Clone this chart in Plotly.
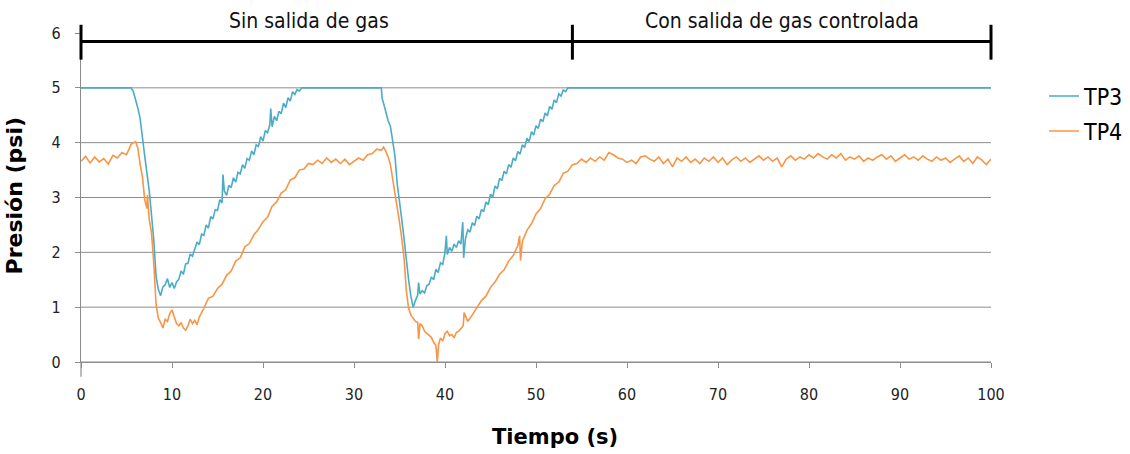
import plotly.graph_objects as go

# ---------------- data ----------------
t_tp3 = [0, 5.5, 5.75, 6.0, 6.25, 6.5, 6.75, 7.0, 7.25, 7.5, 7.75, 8.0, 8.25, 8.5, 8.75, 9.0, 9.25, 9.5,
         9.75, 10.0, 10.25, 10.5, 10.75, 11.0, 11.25, 11.5, 11.75, 12.0, 12.25, 12.5, 12.75, 13.0, 13.25,
         13.5, 13.75, 14.0, 14.25, 14.5, 14.75, 15.0, 15.25, 15.5, 15.6, 15.75, 16.0, 16.25, 16.5, 16.75,
         17.0, 17.25, 17.5, 17.75, 18.0, 18.25, 18.5, 18.75, 19.0, 19.25, 19.5, 19.75, 20.0, 20.25, 20.5,
         20.75, 20.85, 21.0, 21.25, 21.5, 21.75, 22.0, 22.25, 22.5, 22.75, 23.0, 23.25, 23.5, 23.75, 24.0,
         24.25, 33.0, 33.1, 33.25, 33.5, 33.75, 34.0, 34.25, 34.5, 34.75, 35.0, 35.25, 35.5, 35.75, 36.0,
         36.25, 36.5, 36.75, 37.0, 37.1, 37.25, 37.5, 37.75, 38.0, 38.25, 38.5, 38.75, 39.0, 39.25, 39.5,
         39.75, 40.0, 40.15, 40.25, 40.5, 40.75, 41.0, 41.25, 41.5, 41.75, 41.95, 42.0, 42.05, 42.25, 42.5,
         42.75, 43.0, 43.25, 43.5, 43.75, 44.0, 44.25, 44.5, 44.75, 45.0, 45.25, 45.5, 45.75, 46.0, 46.25,
         46.5, 46.75, 47.0, 47.25, 47.5, 47.75, 48.0, 48.25, 48.5, 48.75, 49.0, 49.25, 49.5, 49.75, 50.0,
         50.25, 50.5, 50.75, 51.0, 51.25, 51.5, 51.75, 52.0, 52.25, 52.5, 52.75, 53.0, 53.25, 53.5, 100]
tp3 = [5.0, 5.0, 4.93, 4.8, 4.63, 4.44, 4.06, 3.76, 3.44, 3.12, 2.68, 2.22, 1.56, 1.32, 1.21, 1.37, 1.41,
       1.52, 1.36, 1.45, 1.34, 1.46, 1.51, 1.66, 1.6, 1.79, 1.8, 1.97, 1.93, 2.05, 2.19, 2.14, 2.33, 2.31,
       2.5, 2.44, 2.65, 2.61, 2.78, 2.76, 2.96, 2.9, 3.42, 3.12, 3.04, 3.22, 3.18, 3.36, 3.28, 3.46, 3.43,
       3.6, 3.53, 3.71, 3.68, 3.85, 3.78, 3.96, 3.93, 4.11, 4.03, 4.22, 4.18, 4.33, 4.62, 4.29, 4.48, 4.4,
       4.57, 4.53, 4.72, 4.64, 4.82, 4.76, 4.93, 4.88, 4.97, 4.94, 5.0, 5.0, 4.8, 4.72, 4.56, 4.4, 4.3,
       4.05, 3.76, 3.25, 2.95, 2.6, 2.25, 1.8, 1.5, 1.2, 1.0, 1.12, 1.22, 1.45, 1.24, 1.3, 1.26, 1.39, 1.42,
       1.55, 1.5, 1.69, 1.63, 1.81, 1.78, 2.0, 2.3, 1.96, 2.09, 2.02, 2.15, 2.09, 2.21, 2.15, 2.55, 2.26,
       1.9, 2.25, 2.41, 2.37, 2.54, 2.49, 2.66, 2.61, 2.78, 2.74, 2.92, 2.87, 3.06, 3.01, 3.21, 3.16, 3.35,
       3.31, 3.48, 3.43, 3.6, 3.55, 3.72, 3.67, 3.84, 3.79, 3.96, 3.91, 4.08, 4.02, 4.2, 4.14, 4.31, 4.26,
       4.43, 4.38, 4.54, 4.49, 4.66, 4.61, 4.78, 4.73, 4.89, 4.85, 4.96, 4.93, 5.0, 5.0]

t_tp4 = [0.0, 0.5, 1.0, 1.5, 2.0, 2.5, 3.0, 3.5, 4.0, 4.5, 5.0, 5.5, 6.0, 6.25, 6.5, 6.75, 7.0, 7.25, 7.3,
         7.5, 7.75, 8.0, 8.25, 8.5, 8.75, 9.0, 9.25, 9.5, 9.75, 10.0, 10.25, 10.5, 10.75, 11.0, 11.25, 11.5,
         11.75, 12.0, 12.25, 12.5, 12.75, 13.0, 13.5, 14.0, 14.5, 15.0, 15.5, 16.0, 16.5, 17.0, 17.5, 18.0,
         18.5, 19.0, 19.5, 20.0, 20.5, 21.0, 21.5, 22.0, 22.5, 23.0, 23.5, 24.0, 24.5, 25.0, 25.5, 26.0,
         26.5, 27.0, 27.5, 28.0, 28.5, 29.0, 29.5, 30.0, 30.5, 31.0, 31.5, 32.0, 32.5, 33.0, 33.25, 33.5,
         33.75, 34.0, 34.25, 34.5, 34.75, 35.0, 35.25, 35.5, 35.75, 36.0, 36.25, 36.5, 36.75, 37.0, 37.1,
         37.25, 37.5, 37.75, 38.0, 38.25, 38.5, 38.75, 39.0, 39.15, 39.3, 39.5, 39.75, 40.0, 40.25, 40.5,
         40.75, 41.0, 41.25, 41.5, 41.75, 42.0, 42.1, 42.5, 43.0, 43.5, 44.0, 44.5, 45.0, 45.5, 46.0, 46.5,
         47.0, 47.5, 48.0, 48.2, 48.3, 48.5, 49.0, 49.5, 50.0, 50.5, 51.0, 51.5, 52.0, 52.5, 53.0, 53.5,
         54.0, 54.5, 55.0, 55.5, 56.0, 56.5, 57.0, 57.5, 58.0, 58.5, 59.0, 59.5, 60.0, 60.5, 61.0, 61.5,
         62.0, 62.5, 63.0, 63.5, 64.0, 64.5, 65.0, 65.5, 66.0, 66.5, 67.0, 67.5, 68.0, 68.5, 69.0, 69.5,
         70.0, 70.5, 71.0, 71.5, 72.0, 72.5, 73.0, 73.5, 74.0, 74.5, 75.0, 75.5, 76.0, 76.5, 77.0, 77.5,
         78.0, 78.5, 79.0, 79.5, 80.0, 80.5, 81.0, 81.5, 82.0, 82.5, 83.0, 83.5, 84.0, 84.5, 85.0, 85.5,
         86.0, 86.5, 87.0, 87.5, 88.0, 88.5, 89.0, 89.5, 90.0, 90.5, 91.0, 91.5, 92.0, 92.5, 93.0, 93.5,
         94.0, 94.5, 95.0, 95.5, 96.0, 96.5, 97.0, 97.5, 98.0, 98.5, 99.0, 99.5, 100.0]
tp4 = [3.66, 3.75, 3.63, 3.74, 3.65, 3.71, 3.61, 3.77, 3.72, 3.82, 3.78, 3.97, 4.02, 3.9, 3.6, 3.38, 2.96,
       2.8, 3.05, 2.6, 2.35, 1.8, 1.05, 0.8, 0.72, 0.62, 0.78, 0.74, 0.88, 0.95, 0.82, 0.7, 0.66, 0.72, 0.62,
       0.58, 0.66, 0.78, 0.7, 0.76, 0.68, 0.82, 0.98, 1.16, 1.2, 1.34, 1.42, 1.58, 1.66, 1.84, 1.9, 2.1,
       2.16, 2.32, 2.42, 2.56, 2.64, 2.84, 2.92, 3.08, 3.14, 3.32, 3.36, 3.5, 3.52, 3.62, 3.6, 3.68, 3.62,
       3.72, 3.64, 3.7, 3.62, 3.7, 3.6, 3.66, 3.72, 3.68, 3.78, 3.8, 3.88, 3.86, 3.92, 3.84, 3.74, 3.6,
       3.35, 3.1, 2.85, 2.55, 2.25, 1.9, 1.3, 0.98, 0.86, 0.8, 0.74, 0.72, 0.42, 0.7, 0.66, 0.56, 0.52,
       0.48, 0.45, 0.36, 0.3, 0.0, 0.32, 0.44, 0.38, 0.52, 0.56, 0.48, 0.5, 0.44, 0.54, 0.56, 0.62, 0.66,
       0.9, 0.74, 0.86, 0.98, 1.12, 1.2, 1.36, 1.46, 1.6, 1.68, 1.84, 1.94, 2.12, 2.3, 1.85, 2.2, 2.4,
       2.52, 2.7, 2.8, 2.98, 3.06, 3.22, 3.28, 3.44, 3.48, 3.6, 3.62, 3.7, 3.64, 3.72, 3.66, 3.74, 3.68,
       3.82, 3.78, 3.72, 3.7, 3.64, 3.68, 3.62, 3.74, 3.76, 3.7, 3.66, 3.74, 3.62, 3.7, 3.56, 3.72, 3.66,
       3.74, 3.64, 3.7, 3.62, 3.72, 3.66, 3.74, 3.64, 3.72, 3.6, 3.68, 3.74, 3.66, 3.72, 3.64, 3.7, 3.76,
       3.68, 3.74, 3.66, 3.72, 3.56, 3.7, 3.76, 3.68, 3.74, 3.7, 3.78, 3.72, 3.8, 3.74, 3.7, 3.78, 3.72,
       3.8, 3.68, 3.74, 3.7, 3.76, 3.66, 3.72, 3.68, 3.74, 3.78, 3.7, 3.76, 3.66, 3.72, 3.78, 3.7, 3.74,
       3.68, 3.76, 3.7, 3.66, 3.74, 3.68, 3.72, 3.64, 3.7, 3.76, 3.66, 3.72, 3.62, 3.74, 3.68, 3.6, 3.7]

x_ticks = [0, 10, 20, 30, 40, 50, 60, 70, 80, 90, 100]
y_ticks = [0, 1, 2, 3, 4, 5, 6]
phase_bounds = [0, 54, 100]
phase_labels = ["Sin salida de gas", "Con salida de gas controlada"]
phase_label_x = [25.1, 77.0]

# ---------------- styling ----------------
C_TP3 = "#4BACC6"
C_TP4 = "#F79646"
GRID = "#8C8C8C"
NARROW = "Liberation Sans Narrow, Arial Narrow, DejaVu Sans Condensed, sans-serif"
TICKF = "DejaVu Sans Condensed, DejaVu Sans, sans-serif"
TITLEF = "DejaVu Sans, Verdana, sans-serif"

X0, X1 = x_ticks[0], x_ticks[-1]
Y0, Y1 = y_ticks[0], y_ticks[-1]

fig = go.Figure()
fig.add_trace(go.Scatter(x=t_tp3, y=tp3, mode="lines", name="TP3",
                         line=dict(color=C_TP3, width=1.6), legend="legend", cliponaxis=True))
fig.add_trace(go.Scatter(x=t_tp4, y=tp4, mode="lines", name="TP4",
                         line=dict(color=C_TP4, width=1.6), legend="legend2", cliponaxis=True))

shapes = []
# horizontal gridlines (none at the top edge)
for v in y_ticks[:-1]:
    shapes.append(dict(type="line", xref="paper", yref="y", x0=0, x1=1, y0=v, y1=v,
                       line=dict(color=GRID, width=1), layer="below"))
# y axis line extension below zero
shapes.append(dict(type="line", xref="paper", yref="paper", x0=0, x1=0, y0=0, y1=-0.045,
                   line=dict(color=GRID, width=1.2)))


def px(v):
    return (v - X0) / (X1 - X0)


# phase brackets
shapes.append(dict(type="line", xref="paper", yref="paper", x0=px(phase_bounds[0]), x1=px(phase_bounds[-1]),
                   y0=0.9745, y1=0.9745, line=dict(color="black", width=3)))
for b in phase_bounds:
    shapes.append(dict(type="line", xref="paper", yref="paper", x0=px(b), x1=px(b),
                       y0=0.919, y1=1.025, line=dict(color="black", width=3)))

annotations = []
for lab, lx in zip(phase_labels, phase_label_x):
    annotations.append(dict(text=lab, x=lx, xref="x", y=1.037, yref="paper", showarrow=False,
                            xanchor="center", yanchor="middle",
                            font=dict(family=NARROW, size=21, color="#111111")))
annotations.append(dict(text="<b>Presión (psi)</b>", x=-0.073, xref="paper", y=0.505, yref="paper",
                        showarrow=False, textangle=-90, xanchor="center", yanchor="middle",
                        font=dict(family=TITLEF, size=22, color="black")))
annotations.append(dict(text="<b>Tiempo (s)</b>", x=0.521, xref="paper", y=-0.227, yref="paper",
                        showarrow=False, xanchor="center", yanchor="middle",
                        font=dict(family=TITLEF, size=21, color="black")))

legend_common = dict(font=dict(family=NARROW, size=23, color="black"), bgcolor="rgba(0,0,0,0)",
                     xref="container", yref="container",
                     xanchor="left", yanchor="middle", borderwidth=0)

fig.update_layout(
    width=1130, height=454,
    margin=dict(l=81, r=139, t=33, b=92, pad=0, autoexpand=False),
    paper_bgcolor="white", plot_bgcolor="white",
    xaxis=dict(range=[X0, X1], tickvals=x_ticks, showgrid=False, zeroline=False, automargin=False,
               showline=True, linecolor=GRID, linewidth=1.2, ticks="outside", ticklen=5,
               tickcolor=GRID, tickfont=dict(family=TICKF, size=16, color="#222222"),
               ticklabelstandoff=13),
    yaxis=dict(range=[Y0, Y1], tickvals=y_ticks, showgrid=False, zeroline=False, automargin=False,
               showline=True, linecolor=GRID, linewidth=1.2, ticks="outside", ticklen=5,
               tickcolor=GRID, tickfont=dict(family=TICKF, size=16, color="#222222"),
               ticklabelstandoff=11),
    showlegend=True,
    legend=dict(x=0.9239, y=0.7885, **legend_common),
    legend2=dict(x=0.9239, y=0.7115, **legend_common),
    shapes=shapes,
    annotations=annotations,
)

fig.write_html("out.html", config={"displayModeBar": False},
               post_script="document.body.style.margin='0px';")
